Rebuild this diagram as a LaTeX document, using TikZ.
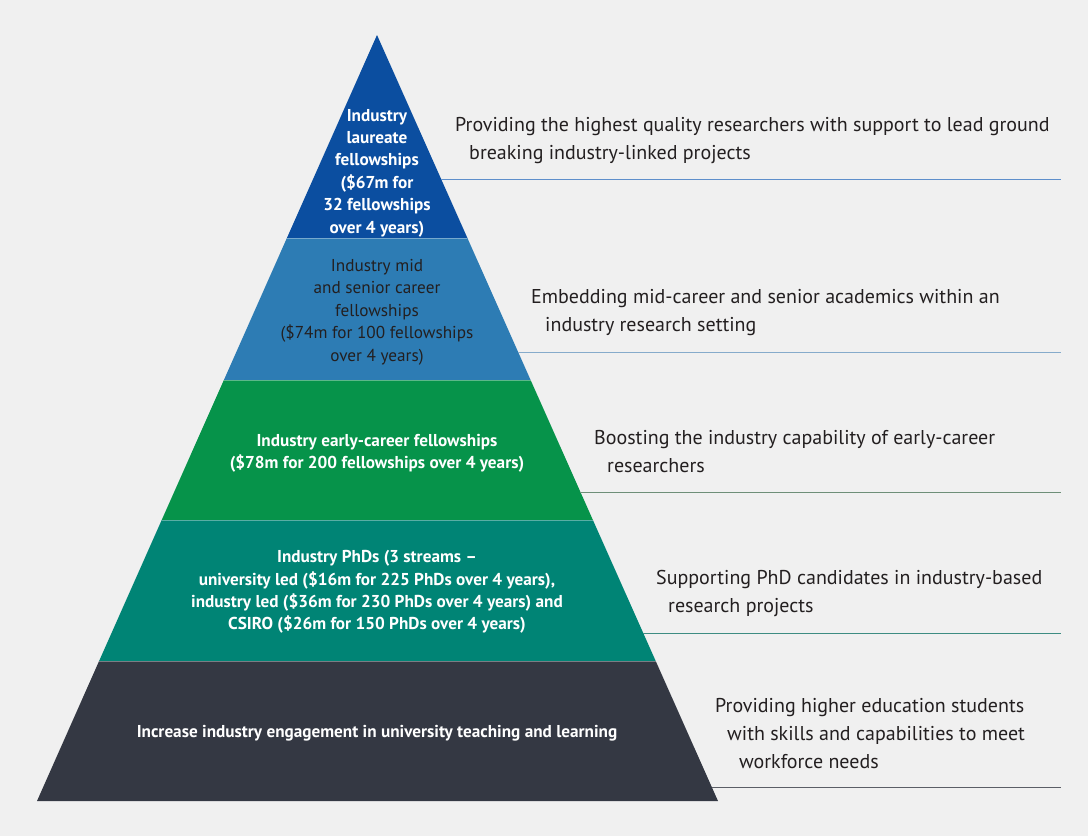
\documentclass[tikz,border=0pt]{standalone}
\usepackage{fontspec}
\setmainfont{PT Sans}
\definecolor{pyrpaper}{HTML}{F0F0F0}
\definecolor{pyrink}{HTML}{231F20}
\definecolor{tierone}{HTML}{0B4EA0}
\definecolor{tiertwo}{HTML}{2D7CB4}
\definecolor{tierthree}{HTML}{06934A}
\definecolor{tierfour}{HTML}{008475}
\definecolor{tierfive}{HTML}{343843}
\definecolor{ruleone}{HTML}{5E8FCB}
\definecolor{ruletwo}{HTML}{86ABCB}
\definecolor{rulethree}{HTML}{6E8F78}
\definecolor{rulefour}{HTML}{3D8C82}
\definecolor{rulefive}{HTML}{5B5E66}
\tikzset{
  tiertext/.style={align=center,inner sep=0pt,text=white,font=\bfseries\fontsize{17.2}{22.4}\selectfont},
  tierdark/.style={tiertext,text=pyrink,font=\fontsize{17.2}{22.4}\selectfont},
  aim/.style={anchor=base west,align=left,inner sep=0pt,text=pyrink,font=\fontsize{20}{28}\selectfont},
  tierrule/.style={line width=1pt},
  tiersep/.style={line width=.6pt,white,opacity=.35}
}

\begin{document}
\begin{tikzpicture}[x=1pt,y=-1pt]
  \useasboundingbox (0,0) rectangle (1088,836);
  \fill[pyrpaper] (0,0) rectangle (1088,836);

  % pyramid corners
  \coordinate (apex) at (377,35);
  \coordinate (t1l) at (286.9,238); \coordinate (t1r) at (467.4,238);
  \coordinate (t2l) at (223.9,380); \coordinate (t2r) at (530.6,380);
  \coordinate (t3l) at (161.7,520); \coordinate (t3r) at (592.9,520);
  \coordinate (t4l) at (99.1,661);  \coordinate (t4r) at (655.7,661);
  \coordinate (t5l) at (37,801);    \coordinate (t5r) at (718,801);

  \fill[tierone] (apex) -- (t1r) -- (t1l) -- cycle;
  \fill[tiertwo] (t1l) -- (t1r) -- (t2r) -- (t2l) -- cycle;
  \fill[tierthree] (t2l) -- (t2r) -- (t3r) -- (t3l) -- cycle;
  \fill[tierfour] (t3l) -- (t3r) -- (t4r) -- (t4l) -- cycle;
  \fill[tierfive] (t4l) -- (t4r) -- (t5r) -- (t5l) -- cycle;
  \draw[tiersep] (t1l) -- (t1r);
  \draw[tiersep] (t2l) -- (t2r);
  \draw[tiersep] (t3l) -- (t3r);
  \draw[tiersep] (t4l) -- (t4r);

  \node[tiertext] (laureate) at (377,173) {Industry\\laureate\\fellowships\\(\$67m for\\32 fellowships\\over 4 years)};
  \node[tierdark] (midcareer) at (377,312) {Industry mid\\and senior career\\fellowships\\(\$74m for 100 fellowships\\over 4 years)};
  \node[tiertext] (earlycareer) at (377,453) {Industry early-career fellowships\\(\$78m for 200 fellowships over 4 years)};
  \node[tiertext] (phds) at (377,592) {Industry PhDs (3 streams --\\university led (\$16m for 225 PhDs over 4 years),\\industry led (\$36m for 230 PhDs over 4 years) and\\CSIRO (\$26m for 150 PhDs over 4 years)};
  \node[tiertext] (engagement) at (377,733) {Increase industry engagement in university teaching and learning};

  \node[aim] (aimlaureate) at (455,159) {Providing the highest quality researchers with support to lead ground\\\hspace*{14pt}breaking industry-linked projects};
  \node[aim] (aimmid) at (531,331) {Embedding mid-career and senior academics within an\\\hspace*{14pt}industry research setting};
  \node[aim] (aimearly) at (594,472) {Boosting the industry capability of early-career\\\hspace*{13pt}researchers};
  \node[aim] (aimphds) at (656,612) {Supporting PhD candidates in industry-based\\\hspace*{12pt}research projects};
  \node[aim] (aimengage) at (715,768) {Providing higher education students\\\hspace*{12pt}with skills and capabilities to meet\\\hspace*{24pt}workforce needs};

  \coordinate (r1a) at (441,179); \coordinate (r1b) at (1061,179);
  \coordinate (r2a) at (518,352); \coordinate (r2b) at (1061,352);
  \coordinate (r3a) at (580,492); \coordinate (r3b) at (1061,492);
  \coordinate (r4a) at (643,633); \coordinate (r4b) at (1061,633);
  \coordinate (r5a) at (712,787); \coordinate (r5b) at (1061,787);
  \draw[tierrule,ruleone] (r1a) -- (r1b);
  \draw[tierrule,ruletwo] (r2a) -- (r2b);
  \draw[tierrule,rulethree] (r3a) -- (r3b);
  \draw[tierrule,rulefour] (r4a) -- (r4b);
  \draw[tierrule,rulefive] (r5a) -- (r5b);
\end{tikzpicture}
\end{document}
